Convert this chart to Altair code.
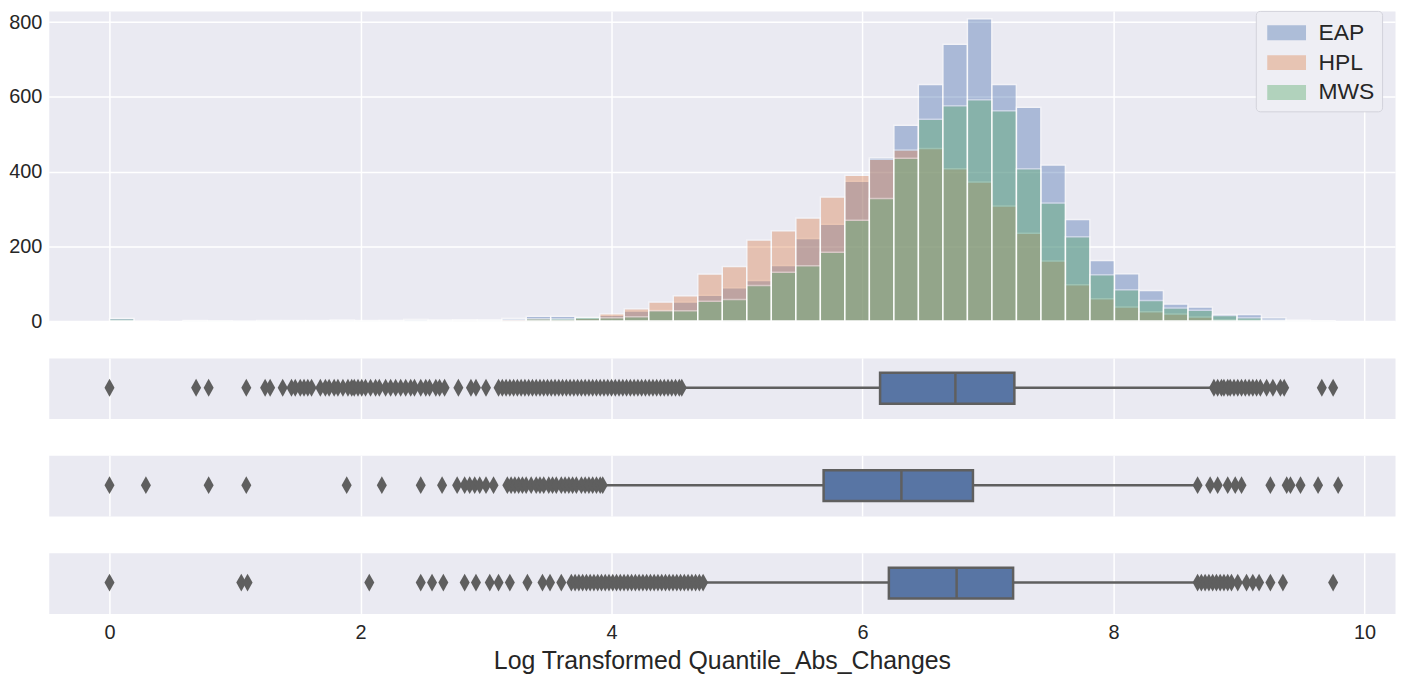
import altair as alt
import pandas as pd

FONT = "Liberation Sans"
TEXT = "#262626"
BG = "#EAEAF2"
LINE = "#5f5f5f"
BOX_FILL = "#5875A4"

AUTHORS = ["EAP", "HPL", "MWS"]
COLORS = ["#4C72B0", "#DD8452", "#55A868"]
BIN_WIDTH = 0.1953

EAP_COUNTS = [8, 0, 0, 2, 1, 1, 2, 1, 2, 3, 2, 2, 5, 3, 4, 3, 8, 13, 13, 10,
              16, 27, 30, 51, 69, 89, 109, 149, 221, 259, 374, 437, 524, 633, 741, 809, 633, 572, 418, 272,
              162, 127, 82, 46, 38, 18, 18, 9, 3, 1]
HPL_COUNTS = [1, 1, 0, 1, 0, 0, 0, 2, 1, 2, 1, 2, 2, 3, 4, 3, 5, 6, 5, 8,
              20, 33, 51, 68, 126, 146, 217, 242, 276, 332, 390, 433, 458, 462, 408, 372, 308, 235, 161, 97,
              60, 38, 25, 19, 11, 4, 3, 2, 1, 1]
MWS_COUNTS = [6, 0, 0, 1, 1, 0, 1, 1, 1, 2, 1, 1, 2, 2, 2, 3, 4, 6, 6, 10,
              9, 12, 28, 28, 53, 58, 95, 131, 148, 184, 270, 328, 436, 540, 576, 592, 563, 408, 316, 226,
              124, 84, 55, 35, 29, 15, 9, 3, 2, 1]

# box statistics: lower whisker, q1, median, q3, upper whisker
EAP_BOX = [4.57, 6.14, 6.74, 7.21, 8.79]
HPL_BOX = [3.94, 5.69, 6.31, 6.88, 8.65]
MWS_BOX = [4.74, 6.21, 6.75, 7.20, 8.65]

EAP_OUT = [0.0, 0.69, 0.79, 1.09, 1.24, 1.28, 1.38, 1.45, 1.48, 1.52, 1.55, 1.58, 1.61,
           1.68, 1.72, 1.75, 1.79, 1.82, 1.86, 1.90, 1.93, 1.95, 1.98, 2.01, 2.04, 2.08, 2.12,
           2.15, 2.20, 2.24, 2.28, 2.32, 2.36, 2.40, 2.43, 2.48, 2.52, 2.55, 2.60, 2.63, 2.67,
           2.78, 2.88, 2.92, 3.00, 3.10, 3.13, 3.16, 3.19, 3.22, 3.25, 3.28, 3.31, 3.34, 3.37,
           3.40, 3.43, 3.46, 3.49, 3.52, 3.55, 3.58, 3.61, 3.64, 3.67, 3.70, 3.73, 3.76, 3.79,
           3.82, 3.85, 3.88, 3.91, 3.94, 3.97, 4.00, 4.03, 4.06, 4.09, 4.12, 4.15, 4.18, 4.21,
           4.24, 4.27, 4.30, 4.33, 4.36, 4.39, 4.42, 4.45, 4.48, 4.51, 4.54, 4.56,
           8.80, 8.83, 8.86, 8.88, 8.91, 8.93, 8.96, 8.99, 9.02, 9.05, 9.08, 9.11, 9.14, 9.17,
           9.22, 9.27, 9.33, 9.36, 9.66, 9.75]
HPL_OUT = [0.0, 0.29, 0.79, 1.09, 1.89, 2.17, 2.48, 2.65, 2.77, 2.83, 2.87, 2.91, 2.95, 3.00,
           3.06, 3.17, 3.20, 3.23, 3.26, 3.29, 3.32, 3.36, 3.40, 3.43, 3.46, 3.50, 3.53, 3.56,
           3.60, 3.63, 3.66, 3.69, 3.72, 3.76, 3.79, 3.82, 3.85, 3.88, 3.91, 3.93,
           8.67, 8.77, 8.83, 8.91, 8.97, 9.02, 9.25, 9.38, 9.41, 9.49, 9.63, 9.79]
MWS_OUT = [0.0, 1.05, 1.10, 2.07, 2.48, 2.57, 2.66, 2.83, 2.92, 3.03, 3.10, 3.19, 3.33, 3.45,
           3.51, 3.60, 3.68, 3.71, 3.74, 3.77, 3.80, 3.83, 3.86, 3.89, 3.92, 3.95, 3.98, 4.01,
           4.04, 4.07, 4.10, 4.13, 4.16, 4.19, 4.22, 4.25, 4.28, 4.31, 4.34, 4.37, 4.40, 4.43,
           4.46, 4.49, 4.52, 4.55, 4.58, 4.61, 4.64, 4.67, 4.70, 4.73,
           8.67, 8.70, 8.73, 8.76, 8.79, 8.82, 8.85, 8.88, 8.91, 8.94, 8.99, 9.06, 9.11, 9.16,
           9.25, 9.35, 9.75]

X_TICKS = [0, 2, 4, 6, 8, 10]
Y_TICKS = [0, 200, 400, 600, 800]
X_TITLE = "Log Transformed Quantile_Abs_Changes"

XSCALE = alt.Scale(domain=[-0.484, 10.243], nice=False, zero=False)
W = 1354

RECT_PATH = "M-1.3,-0.5L1.3,-0.5L1.3,0.5L-1.3,0.5Z"
DIAMOND = "M0,-1L0.56,0L0,1L-0.56,0Z"

rows = []
for k, (name, counts) in enumerate(zip(AUTHORS, [EAP_COUNTS, HPL_COUNTS, MWS_COUNTS])):
    for i, c in enumerate(counts):
        if c > 0:
            rows.append({"author": name, "k": k, "x0": i * BIN_WIDTH,
                         "x1": (i + 1) * BIN_WIDTH, "count": c})
hist_df = pd.DataFrame(rows)

hist = alt.Chart(hist_df).mark_bar(opacity=0.4, stroke="white", strokeWidth=1.5).encode(
    x=alt.X("x0:Q", scale=XSCALE, title=None,
            axis=alt.Axis(values=X_TICKS, labels=False, grid=True)),
    x2="x1:Q",
    y=alt.Y("count:Q", scale=alt.Scale(domain=[0, 830], nice=False), title=None,
            axis=alt.Axis(values=Y_TICKS, grid=True, labelPadding=7, format="d")),
    y2=alt.datum(0),
    color=alt.Color("author:N", scale=alt.Scale(domain=AUTHORS, range=COLORS),
                    legend=alt.Legend(title=None, orient="none", legendX=1214, legendY=0,
                                      symbolType=RECT_PATH, symbolSize=900,
                                      symbolOpacity=0.4, symbolStrokeWidth=0,
                                      symbolOffset=9,
                                      labelFont=FONT, labelFontSize=23, labelColor=TEXT,
                                      labelOffset=17, rowPadding=3, padding=7,
                                      fillColor="#EEEEF4", strokeColor="#D3D3DB",
                                      cornerRadius=4)),
    order=alt.Order("k:Q"),
).properties(width=W, height=312)


def box_panel(stats, outliers, last):
    s = pd.DataFrame([dict(zip(["lo", "q1", "med", "q3", "hi"], stats))])
    o = pd.DataFrame({"v": outliers})
    axis = alt.Axis(values=X_TICKS, labels=last, grid=True, labelPadding=9,
                    titlePadding=6, format="d")
    base = alt.Chart(s)
    whisk = base.mark_rule(color=LINE, strokeWidth=2.5).encode(
        x=alt.X("lo:Q", scale=XSCALE, axis=axis, title=X_TITLE if last else None),
        x2="hi:Q",
        y=alt.value(30),
    )
    box = base.mark_rect(fill=BOX_FILL, stroke=LINE, strokeWidth=2.5).encode(
        x="q1:Q", x2="q3:Q", y=alt.value(15), y2=alt.value(46)
    )
    med = base.mark_rule(color=LINE, strokeWidth=2.5).encode(
        x="med:Q", y=alt.value(15), y2=alt.value(46)
    )
    pts = alt.Chart(o).mark_point(shape=DIAMOND, filled=True, size=324, color=LINE,
                                  opacity=1).encode(
        x="v:Q", y=alt.value(30)
    )
    return alt.layer(whisk, box, med, pts).properties(width=W, height=61)


boxes = alt.vconcat(
    box_panel(EAP_BOX, EAP_OUT, False),
    box_panel(HPL_BOX, HPL_OUT, False),
    box_panel(MWS_BOX, MWS_OUT, True),
    spacing=35,
)

chart = alt.vconcat(hist, boxes, spacing=25).properties(
    padding=0, background="white"
).configure_view(
    fill=BG, stroke="transparent"
).configure_axis(
    domain=False, ticks=False, gridColor="white", gridWidth=1.5,
    labelFont=FONT, labelFontSize=20, labelColor=TEXT,
    titleFont=FONT, titleFontSize=25, titleColor=TEXT, titleFontWeight="normal",
)

chart.save("out.html", embed_options={"renderer": "svg", "actions": False})
